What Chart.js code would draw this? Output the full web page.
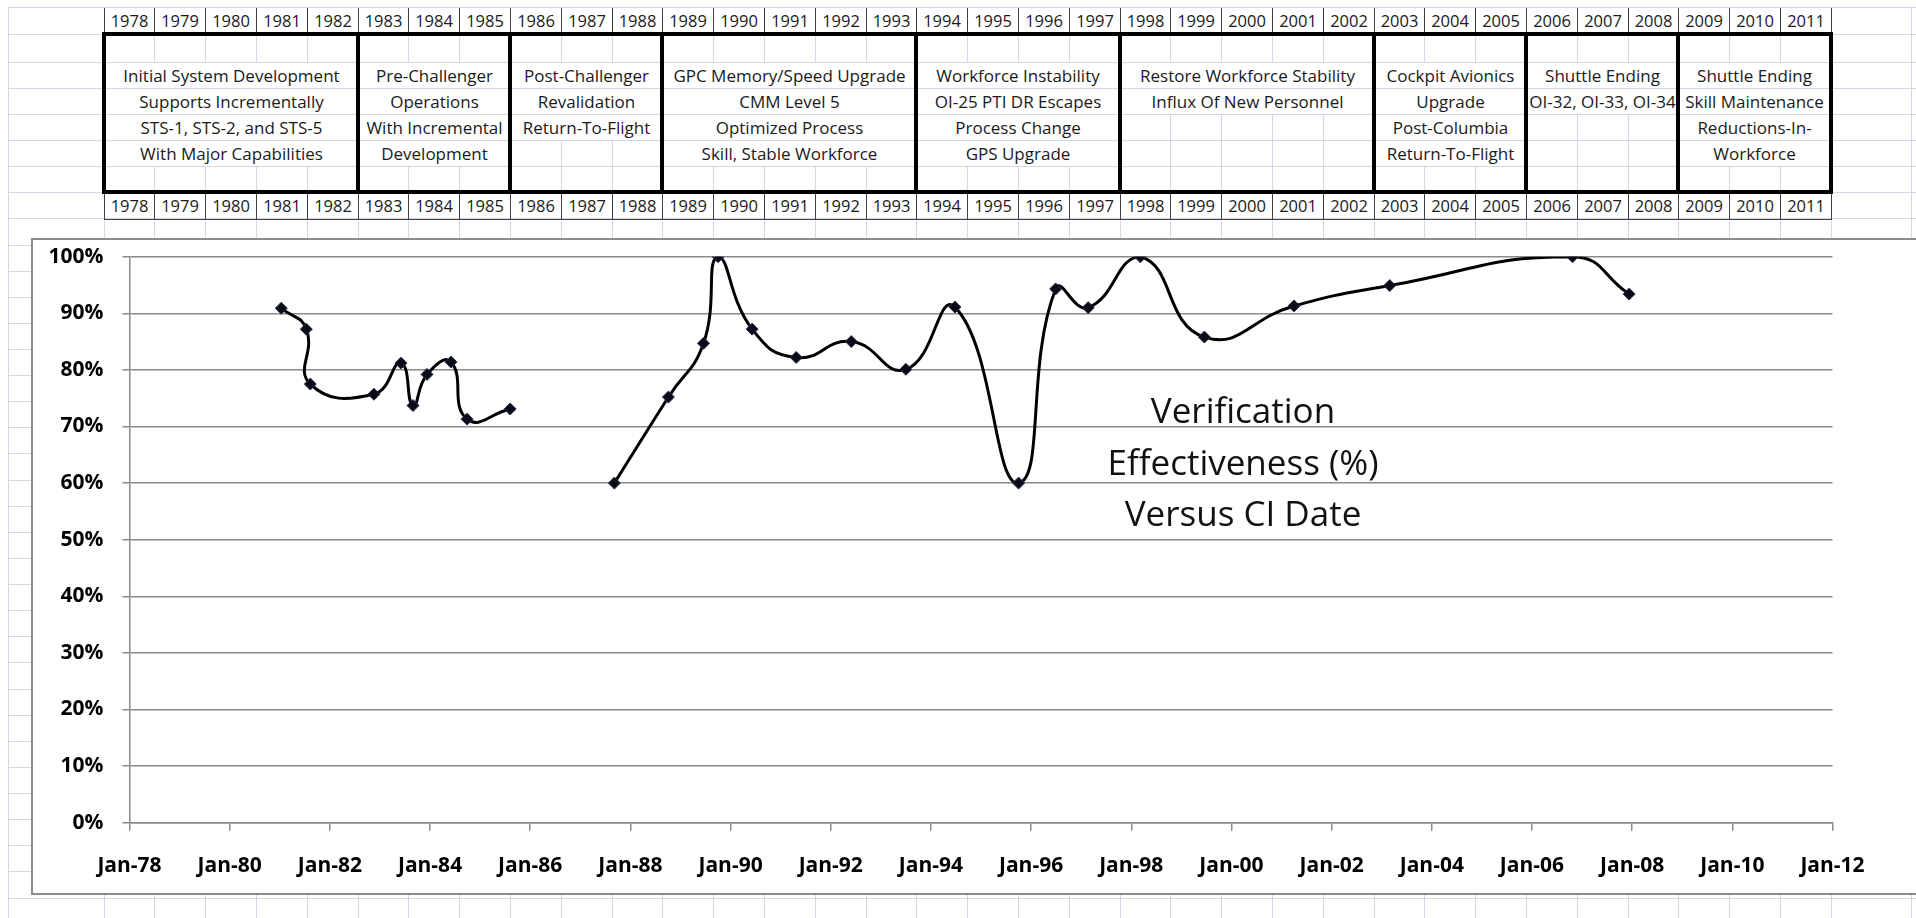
<!DOCTYPE html>
<html>
<head>
<meta charset="utf-8">
<title>Verification Effectiveness Versus CI Date</title>
<script src="https://cdn.jsdelivr.net/npm/chart.js@4.4.1/dist/chart.umd.min.js"></script>
<style>
	body { margin: 0; width: 1916px; height: 918px; overflow: hidden; background: #fff; font-family: 'Open Sans', sans-serif; }
	.layer { position: absolute; left: 0; top: 0; width: 1916px; height: 918px; }
	.gl { position: absolute; background: #d0d7e5; }
	.year { position: absolute; height: 26px; line-height: 26px; text-align: center; font-size: 16.5px; color: #1a1a1a; border-left: 1px solid #404040; box-sizing: border-box; }
	.phaseRow { position: absolute; background: #fff; text-align: center; font-size: 17px; color: #1a1a1a; white-space: nowrap; }
	.thick { position: absolute; background: #000; }
	#frame { position: absolute; left: 31px; top: 238px; width: 1920px; height: 653px; border: 2px solid #8c8c8c; background: #fff; }
	#note { position: absolute; left: 1043px; top: 384px; width: 400px; text-align: center; font-size: 35px; line-height: 51.5px; color: #111; }
</style>
</head>
<body>

<div class="layer" id="sheet"></div>
<div class="layer" id="table"></div>
<div id="frame"></div>
<div class="layer"><canvas id="chart" width="1916" height="918"></canvas></div>
<div id="note">Verification<br>Effectiveness (%)<br>Versus CI Date</div>

<script>
// CI dates (decimal years) and verification effectiveness (%); null breaks the line
const ciDates = [1981.03, 1981.53, 1981.61, 1982.88, 1983.42, 1983.66, 1983.94, 1984.42, 1984.74, 1985.60,
	1986.60,
	1987.68, 1988.76, 1989.46, 1989.75, 1990.43, 1991.31, 1992.41, 1993.50, 1994.48, 1995.75,
	1996.49, 1997.14, 1998.18, 1999.46, 2001.25, 2003.16, 2006.81, 2007.94];

const effectiveness = [90.9, 87.2, 77.5, 75.7, 81.2, 73.7, 79.2, 81.4, 71.3, 73.1,
	null,
	60.0, 75.2, 84.7, 100.0, 87.2, 82.2, 85.0, 80.1, 91.1, 60.0,
	94.3, 91.0, 100.0, 85.8, 91.3, 94.9, 100.0, 93.4];

const tickLabels = ['Jan-78', 'Jan-80', 'Jan-82', 'Jan-84', 'Jan-86', 'Jan-88', 'Jan-90', 'Jan-92', 'Jan-94',
	'Jan-96', 'Jan-98', 'Jan-00', 'Jan-02', 'Jan-04', 'Jan-06', 'Jan-08', 'Jan-10', 'Jan-12'];

const years = [1978, 1979, 1980, 1981, 1982, 1983, 1984, 1985, 1986, 1987, 1988, 1989, 1990, 1991, 1992, 1993, 1994,
	1995, 1996, 1997, 1998, 1999, 2000, 2001, 2002, 2003, 2004, 2005, 2006, 2007, 2008, 2009, 2010, 2011];

// number of year columns in each phase box
const phaseSpans = [5, 3, 3, 5, 4, 5, 3, 3, 3];

const phaseText = [
	['Initial System Development', 'Supports Incrementally', 'STS-1, STS-2, and STS-5', 'With Major Capabilities'],
	['Pre-Challenger', 'Operations', 'With Incremental', 'Development'],
	['Post-Challenger', 'Revalidation', 'Return-To-Flight', ''],
	['GPC Memory/Speed Upgrade', 'CMM Level 5', 'Optimized Process', 'Skill, Stable Workforce'],
	['Workforce Instability', 'OI-25 PTI DR Escapes', 'Process Change', 'GPS Upgrade'],
	['Restore Workforce Stability', 'Influx Of New Personnel', '', ''],
	['Cockpit Avionics', 'Upgrade', 'Post-Columbia', 'Return-To-Flight'],
	['Shuttle Ending', 'OI-32, OI-33, OI-34', '', ''],
	['Shuttle Ending', 'Skill Maintenance', 'Reductions-In-', 'Workforce']
];

// spreadsheet geometry
const colX0 = 103.5, colW = 50.8;
const rowLines = [7, 33.5, 61.5, 87.5, 113.5, 139.5, 165.5, 191.7, 218.3];
for (let y = 244.5; y < 918; y += 26.12) rowLines.push(y);

function addDiv(parent, cls, css, text) {
	const d = document.createElement('div');
	d.className = cls;
	Object.assign(d.style, css);
	if (text !== undefined) d.textContent = text;
	parent.appendChild(d);
	return d;
}

function drawSheet() {
	const sheet = document.getElementById('sheet');
	const colLines = [8.3];
	for (let i = 0; i <= years.length; i++) colLines.push(colX0 + colW * i);
	colLines.push(1911);
	colLines.forEach(x => addDiv(sheet, 'gl', { left: Math.round(x) + 'px', top: '7px', width: '1px', height: '911px' }));
	rowLines.forEach(y => addDiv(sheet, 'gl', { left: '8px', top: Math.round(y) + 'px', width: '1908px', height: '1px' }));
}

function drawTable() {
	const table = document.getElementById('table');
	const right = colX0 + colW * years.length;

	// year rows above and below the phase boxes
	years.forEach((yr, i) => {
		const left = Math.round(colX0 + colW * i);
		const width = Math.round(colX0 + colW * (i + 1)) - left + 1;
		addDiv(table, 'year', { left: left + 'px', top: '8px', width: width + 'px', borderRight: '1px solid #404040' }, yr);
		addDiv(table, 'year', { left: left + 'px', top: '193px', width: width + 'px', borderRight: '1px solid #404040', borderBottom: '1px solid #404040', height: '27px' }, yr);
	});

	// phase boxes
	let col = 0;
	phaseSpans.forEach((span, p) => {
		const x1 = colX0 + colW * col, x2 = colX0 + colW * (col + span);
		phaseText[p].forEach((line, r) => {
			if (!line) return;
			const top = rowLines[r + 2], bottom = rowLines[r + 3];
			addDiv(table, 'phaseRow', {
				left: Math.round(x1) + 2 + 'px', width: Math.round(x2 - x1) - 3 + 'px',
				top: Math.round(top) + 1 + 'px', height: Math.round(bottom - top) - 1 + 'px',
				lineHeight: Math.round(bottom - top) - 1 + 'px'
			}, line);
		});
		col += span;
		addDiv(table, 'thick', { left: Math.round(x2) - 2 + 'px', top: '32px', width: '4px', height: '162px' });
	});

	addDiv(table, 'thick', { left: Math.round(colX0) - 2 + 'px', top: '32px', width: '4px', height: '162px' });
	addDiv(table, 'thick', { left: Math.round(colX0) - 2 + 'px', top: '32px', width: Math.round(right - colX0) + 4 + 'px', height: '4px' });
	addDiv(table, 'thick', { left: Math.round(colX0) - 2 + 'px', top: '190px', width: Math.round(right - colX0) + 4 + 'px', height: '4px' });
}

function createChart() {
	const ctx = document.getElementById('chart').getContext('2d');
	const axisGray = '#8a8a8a';
	const tickFont = { family: 'Open Sans', weight: 'bold', size: 21 };

	new Chart(ctx, {
		type: 'line',
		data: {
			datasets: [{
				label: 'Verification Effectiveness',
				data: ciDates.map((d, i) => ({ x: d, y: effectiveness[i] })),
				borderColor: '#000',
				borderWidth: 3,
				tension: 0.5,
				spanGaps: false,
				fill: false,
				pointStyle: 'rectRot',
				pointRadius: 6,
				pointBackgroundColor: '#0b0b18',
				pointBorderColor: '#23324f',
				pointBorderWidth: 1
			}]
		},
		options: {
			responsive: false,
			animation: false,
			layout: {
				padding: { left: 32, top: 256.7, right: 83.5, bottom: 35.3 }
			},
			plugins: {
				legend: { display: false },
				tooltip: { enabled: false }
			},
			scales: {
				x: {
					type: 'linear',
					min: 1978,
					max: 2012,
					afterFit: scale => { scale.height = 60; },
					ticks: {
						stepSize: 2,
						autoSkip: false,
						maxRotation: 0,
						padding: 23,
						color: '#000',
						font: tickFont,
						callback: (value, index) => tickLabels[index]
					},
					grid: { drawOnChartArea: false, tickLength: 8, color: axisGray, lineWidth: 1.5 },
					border: { color: axisGray, width: 1.5 }
				},
				y: {
					min: 0,
					max: 100,
					afterFit: scale => { scale.width = 97.5; },
					ticks: {
						stepSize: 10,
						padding: 19,
						color: '#000',
						font: tickFont,
						callback: value => value + '%'
					},
					grid: { tickLength: 7, color: axisGray, lineWidth: 1.5 },
					border: { color: axisGray, width: 1.5 }
				}
			}
		}
	});
}

drawSheet();
drawTable();
createChart();
</script>
</body>
</html>
